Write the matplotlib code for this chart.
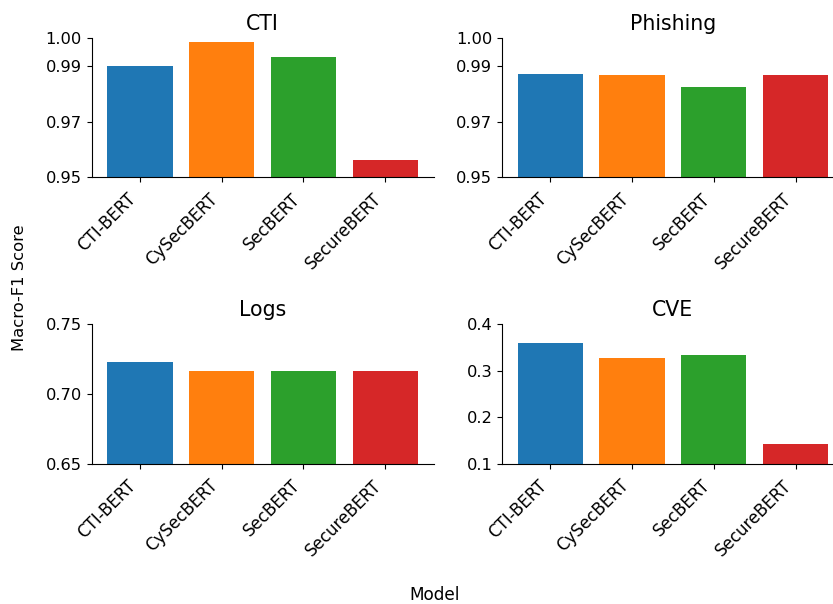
import matplotlib
matplotlib.use("Agg")
import matplotlib.pyplot as plt

models = ["CTI-BERT", "CySecBERT", "SecBERT", "SecureBERT"]
colors = ["#1f77b4", "#ff7f0e", "#2ca02c", "#d62728"]

cti = [0.9900, 0.9986, 0.9933, 0.9562]
phishing = [0.9871, 0.9868, 0.9826, 0.9868]
logs = [0.7233, 0.7169, 0.7169, 0.7169]
cve = [0.3601, 0.3272, 0.3336, 0.1430]

panels = [
    ("CTI", cti, (0.95, 1.00), [0.95, 0.97, 0.99, 1.00], "{:.2f}"),
    ("Phishing", phishing, (0.95, 1.00), [0.95, 0.97, 0.99, 1.00], "{:.2f}"),
    ("Logs", logs, (0.65, 0.75), [0.65, 0.70, 0.75], "{:.2f}"),
    ("CVE", cve, (0.1, 0.4), [0.1, 0.2, 0.3, 0.4], "{:.1f}"),
]

W, H = 833, 604
plt.rcParams["font.size"] = 11.7
fig = plt.figure(figsize=(W / 100, H / 100), dpi=100)

def px_axes(left, top, right, bottom):
    return fig.add_axes([left / W, 1 - bottom / H, (right - left) / W, (bottom - top) / H])

boxes = [
    (91.7, 38.3, 433.5, 177.3),
    (502.0, 38.3, 843.8, 177.3),
    (91.7, 324.3, 433.5, 464.0),
    (502.0, 324.3, 843.8, 464.0),
]

for box, (title, vals, ylim, ticks, fmt) in zip(boxes, panels):
    ax = px_axes(*box)
    ax.bar(models, vals, color=colors, width=0.8)
    ax.set_ylim(*ylim)
    ax.set_yticks(ticks)
    ax.set_yticklabels([fmt.format(t) for t in ticks])
    ax.set_title(title, fontsize=14.8)
    ax.spines["top"].set_visible(False)
    ax.spines["right"].set_visible(False)
    ax.tick_params(labelsize=11.7)
    ax.tick_params(axis="x", labelsize=12, pad=5.5)
    plt.setp(ax.get_xticklabels(), rotation=45, ha="right")

fig.text(434.7 / W, 1 - 595 / H, "Model", fontsize=12.2, ha="center", va="center")
fig.text(20 / W, 1 - 288 / H, "Macro-F1 Score", fontsize=11.8, rotation=90,
         ha="center", va="center")
fig.savefig("out.png", dpi=100)
